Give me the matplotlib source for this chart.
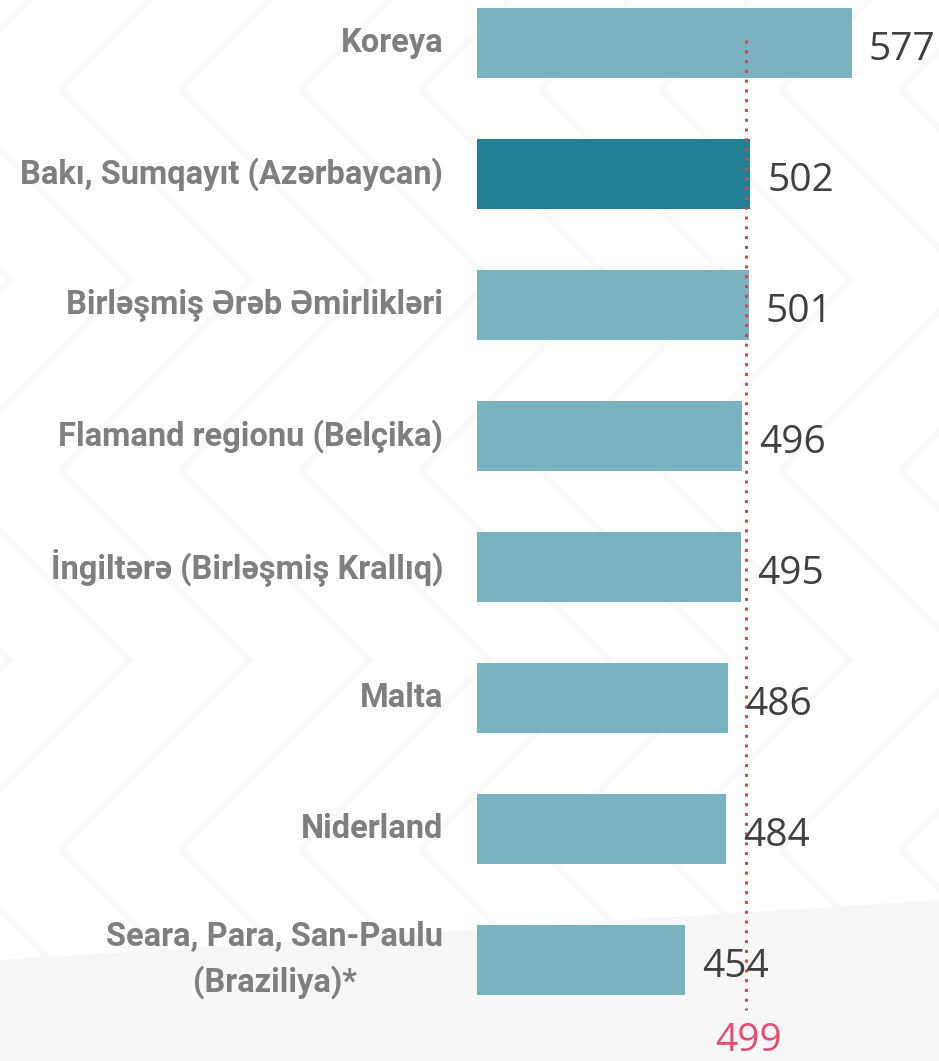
import matplotlib
matplotlib.use("Agg")
import matplotlib.pyplot as plt
import numpy as np

categories = ["Koreya", "Bakı, Sumqayıt (Azərbaycan)", "Birləşmiş Ərəb Əmirlikləri",
              "Flamand regionu (Belçika)", "İngiltərə (Birləşmiş Krallıq)", "Malta",
              "Niderland", "Seara, Para, San-Paulu\n(Braziliya)*"]
values = [577, 502, 501, 496, 495, 486, 484, 454]
highlight = "Bakı, Sumqayıt (Azərbaycan)"
reference_value = 499

W, H = 939, 1061
fig = plt.figure(figsize=(W / 100, H / 100), dpi=100)
fig.patch.set_facecolor("white")

# faint background chevron pattern
bg = fig.add_axes([0, 0, 1, 1], zorder=-10)
bg.set_xlim(0, W)
bg.set_ylim(H, 0)
bg.axis("off")
bg.fill_between([0, W], [960, 900], [H, H], color="#f7f7f7", lw=0)
for x0 in range(-900, 1400, 120):
    for yc in range(-100, 1200, 380):
        bg.plot([x0, x0 + 190, x0], [yc - 190, yc, yc + 190], color="#f9f9f9", lw=5,
                solid_capstyle="butt", zorder=-5)

ax = fig.add_axes([477 / W, 0, 1 - 477 / W, 1])
ax.patch.set_alpha(0)
y = np.arange(len(categories))
colors = ["#237f96" if c == highlight else "#7ab2bf" for c in categories]
ax.barh(y, values, left=0, height=0.54, color=colors, zorder=2)
ax.set_xlim(300, 641.7)
ax.set_ylim((H - 43) / 131, -43 / 131)
for s in ax.spines.values():
    s.set_visible(False)
ax.set_xticks([])
ax.set_yticks([])

for yi, v in zip(y, values):
    ax.text(v + 12.5, yi + 0.05, str(v), ha="left", va="center", fontsize=28,
            family=["Open Sans", "DejaVu Sans"], color="#404040", zorder=4)

for yi, c in zip(y, categories):
    ax.text(300 - 25, yi, c, ha="right", va="center", fontsize=23.5, fontweight="bold",
            family=["Roboto", "DejaVu Sans"], color="#7f7f7f", linespacing=1.45,
            multialignment="center", transform=ax.transData, clip_on=False)

ax.vlines(reference_value, -0.02, 7.38, colors="#c8504f", linestyles=(0, (1, 2.2)),
          lw=2.2, zorder=3)
ax.text(reference_value + 1.5, 7.62, str(reference_value), ha="center", va="center",
        fontsize=28, family=["Open Sans", "DejaVu Sans"], color="#ec4b70")

fig.savefig("out.png", dpi=100)
